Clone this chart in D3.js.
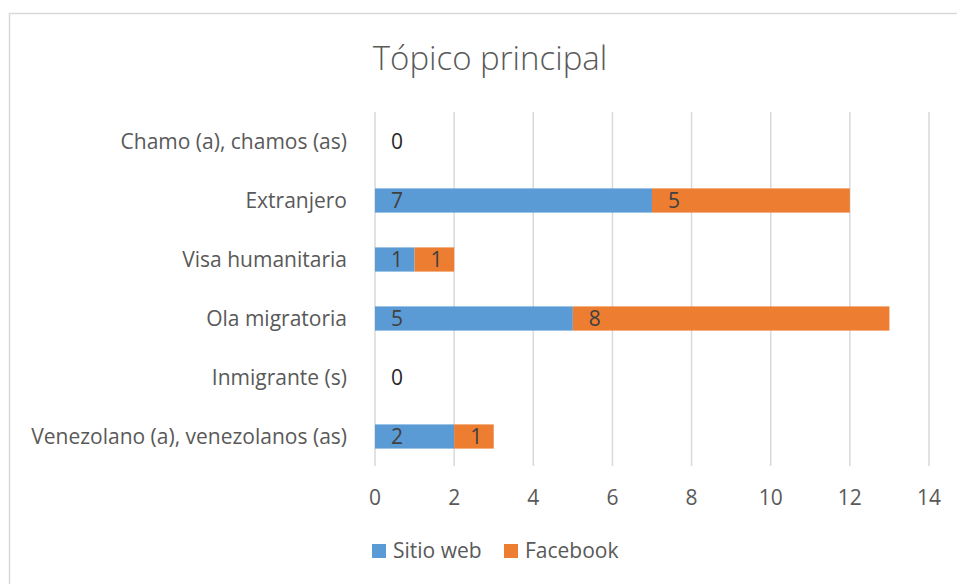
<!DOCTYPE html>
<html><head><meta charset="utf-8">
<script src="https://cdn.jsdelivr.net/npm/d3@7"></script>
<style>body{margin:0;background:#fff}svg{display:block}text{font-family:"Open Sans",Lato,sans-serif}</style>
</head><body><svg id="c" width="957" height="584"></svg>
<script>
const categories = ["Chamo (a), chamos (as)","Extranjero","Visa humanitaria","Ola migratoria","Inmigrante (s)","Venezolano (a), venezolanos (as)"];
const sitioWeb = [0,7,1,5,0,2];
const facebook = [0,5,1,8,0,1];
const seriesNames = ["Sitio web","Facebook"];
const colors = ["#5b9bd5","#ed7d31"];
const xTicks = [0,2,4,6,8,10,12,14];

const svg = d3.select("#c");
svg.append("rect").attr("x",9.5).attr("y",13.5).attr("width",1200).attr("height",1200)
  .attr("fill","#fff").attr("stroke","#d9d9d9").attr("stroke-width",1.5);

const x = d3.scaleLinear().domain([0,14]).range([375,929]);
const y = d3.scaleBand().domain(categories).range([112,466]).paddingInner(0.59).paddingOuter(0.295);

svg.append("text").attr("x",490).attr("y",70).attr("text-anchor","middle")
  .attr("font-size",33).attr("font-weight",300).attr("fill","#595959").text("Tópico principal");

svg.append("g").selectAll("line").data(xTicks).join("line")
  .attr("x1",d=>x(d)).attr("x2",d=>x(d)).attr("y1",112).attr("y2",466)
  .attr("stroke","#d9d9d9").attr("stroke-width",1.5);

svg.append("g").selectAll("text").data(xTicks).join("text")
  .attr("x",d=>x(d)).attr("y",505).attr("text-anchor","middle")
  .attr("font-size",21).attr("fill","#595959").text(d=>d);

svg.append("g").selectAll("text").data(categories).join("text")
  .attr("x",347).attr("y",d=>y(d)+y.bandwidth()/2).attr("dy","0.35em").attr("text-anchor","end")
  .attr("font-size",21).attr("fill","#595959").text(d=>d);

const rows = categories.map((c,i)=>({c, vals:[sitioWeb[i],facebook[i]]}));
rows.forEach(r=>{
  let acc=0;
  r.vals.forEach((v,si)=>{
    const x0=acc; acc+=v;
    if(v>0){
      svg.append("rect").attr("x",x(x0)).attr("y",y(r.c)).attr("width",x(acc)-x(x0)).attr("height",y.bandwidth())
        .attr("fill",colors[si]);
    }
  });
  acc=0;
  const total = r.vals[0]+r.vals[1];
  if(total===0){
    svg.append("text").attr("x",x(0)+22).attr("y",y(r.c)+y.bandwidth()/2).attr("dy","0.35em")
      .attr("text-anchor","middle").attr("font-size",21).attr("fill","#262626").text(0);
  } else {
    r.vals.forEach((v,si)=>{
      const x0=acc; acc+=v;
      if(v>0){
        svg.append("text").attr("x",x(x0)+22).attr("y",y(r.c)+y.bandwidth()/2).attr("dy","0.35em")
          .attr("text-anchor","middle").attr("font-size",21).attr("fill","#404040").text(v);
      }
    });
  }
});

const lg = svg.append("g");
const lx=[372,504];
seriesNames.forEach((n,i)=>{
  lg.append("rect").attr("x",lx[i]).attr("y",544).attr("width",14).attr("height",14).attr("fill",colors[i]);
  lg.append("text").attr("x",lx[i]+21).attr("y",551).attr("dy","0.35em").attr("font-size",21).attr("fill","#595959").text(n);
});
</script></body></html>
